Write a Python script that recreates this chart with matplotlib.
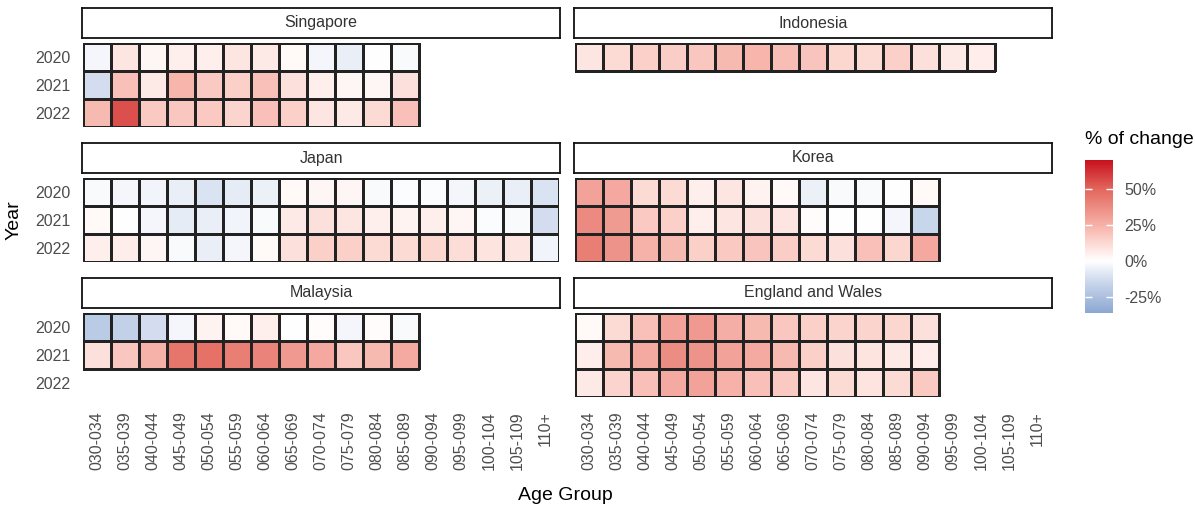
import numpy as np
import matplotlib
matplotlib.use('Agg')
import matplotlib.pyplot as plt
from matplotlib.colors import LinearSegmentedColormap, Normalize
from matplotlib.cm import ScalarMappable

plt.rcParams['font.family'] = ['Liberation Sans', 'DejaVu Sans']

ages = ['030-034', '035-039', '040-044', '045-049', '050-054', '055-059', '060-064',
        '065-069', '070-074', '075-079', '080-084', '085-089', '090-094', '095-099',
        '100-104', '105-109', '110+']
years = ['2020', '2021', '2022']

# % change per year (rows 2020, 2021, 2022), cells from 030-034 onward
singapore = [[-3, 8, 3, 5, 5, 8, 7, 2, -3, -6, 0, -2],
             [-12, 20, 7, 24, 17, 15, 20, 10, 5, 3, 3, 10],
             [22, 55, 17, 18, 17, 14, 20, 15, 8, 7, 12, 20]]
indonesia = [[8, 12, 15, 16, 18, 22, 24, 21, 19, 13, 12, 15, 10, 7, 6],
             [],
             []]
japan = [[-2, -3, -4, -6, -10, -7, -5, 2, 3, 3, -2, -1, -1, -3, -5, -6, -10],
         [2, 0, -3, -7, -6, -4, -2, 7, 10, 8, 5, 4, 5, 3, -1, -2, -12],
         [5, 6, 3, -2, -6, -3, 2, 10, 15, 15, 12, 12, 13, 11, 9, 8, -4]]
korea = [[30, 28, 12, 12, 5, 8, 4, 2, -5, -2, -2, 0, 2],
         [38, 32, 17, 15, 5, 8, 10, 8, 1, 0, 0, -3, -15],
         [42, 35, 25, 22, 15, 17, 19, 16, 12, 10, 20, 13, 28]]
malaysia = [[-20, -17, -12, -3, 4, 2, 5, 0, 1, -3, 1, -2],
            [10, 18, 25, 45, 46, 42, 40, 33, 28, 18, 22, 27],
            []]
england = [[2, 12, 20, 30, 33, 26, 22, 18, 15, 14, 14, 13, 10],
           [6, 22, 27, 37, 35, 30, 27, 22, 15, 10, 9, 7, 6],
           [7, 14, 20, 27, 30, 25, 20, 17, 8, 12, 9, 12, 17]]

countries = ['Singapore', 'Indonesia', 'Japan', 'Korea', 'Malaysia', 'England and Wales']
panels = [singapore, indonesia, japan, korea, malaysia, england]

vmin, vmax = -36, 70
norm = Normalize(vmin, vmax)
nodes = [(-36, '#8CA8D2'), (-15, '#C9D6EB'), (0, '#FFFFFF'), (12, '#FCDAD4'),
         (25, '#F6B1A8'), (50, '#E2665C'), (70, '#C8101E')]
cmap = LinearSegmentedColormap.from_list('chg', [(norm(v), col) for v, col in nodes])

W, H = 1195, 508
fig = plt.figure(figsize=(W / 100, H / 100), dpi=100)

lefts = [83, 575]
tops = [43, 178, 313]
pw, ph = 476, 84
grey = '#4D4D4D'

for k, (name, data) in enumerate(zip(countries, panels)):
    r, c = k // 2, k % 2
    x0, y0 = lefts[c], tops[r]
    ax = fig.add_axes([x0 / W, (H - y0 - ph) / H, pw / W, ph / H])
    for i, row in enumerate(data):
        if len(row) == 0:
            continue
        ax.pcolormesh(np.arange(len(row) + 1), [i - 0.5, i + 0.5], [row],
                      cmap=cmap, norm=norm, edgecolors='#222222', linewidth=0.8)
    ax.set_xlim(0, len(ages))
    ax.set_ylim(2.5, -0.5)
    for s in ax.spines.values():
        s.set_visible(False)
    ax.tick_params(length=0, labelsize=11.5, labelcolor=grey)
    ax.tick_params(axis='y', pad=9)
    ax.tick_params(axis='x', pad=10)
    ax.set_yticks(range(3))
    ax.set_yticklabels(years if c == 0 else [])
    ax.set_xticks(np.arange(len(ages)) + 0.5)
    if r == 2:
        ax.set_xticklabels(ages, rotation=90)
    else:
        ax.set_xticklabels([])

    # facet strip
    sx = fig.add_axes([(x0 - 1) / W, (H - y0 + 5) / H, (pw + 2) / W, 30 / H])
    sx.set_xticks([])
    sx.set_yticks([])
    for s in sx.spines.values():
        s.set_linewidth(1.3)
        s.set_color('#111111')
    sx.text(0.5, 0.5, name, ha='center', va='center', fontsize=11.5,
            color='#333333', transform=sx.transAxes)

fig.text(565 / W, 1 - 495 / H, 'Age Group', ha='center', va='center', fontsize=14)
fig.text(14 / W, 1 - 220 / H, 'Year', ha='center', va='center', fontsize=14, rotation=90)

# legend colourbar
cax = fig.add_axes([1085 / W, (H - 313) / H, 28 / W, 153 / H])
cb = fig.colorbar(ScalarMappable(norm=norm, cmap=cmap), cax=cax)
cb.outline.set_visible(False)
cb.set_ticks([-25, 0, 25, 50])
cb.set_ticklabels(['-25%', '0%', '25%', '50%'])
cax.yaxis.set_ticks_position('both')
cax.tick_params(direction='in', color='white', length=5, width=1,
                labelsize=11.5, labelcolor=grey, pad=8)
fig.text(1085 / W, 1 - 140 / H, '% of change', ha='left', va='center', fontsize=14)

fig.savefig('out.png', dpi=100)
